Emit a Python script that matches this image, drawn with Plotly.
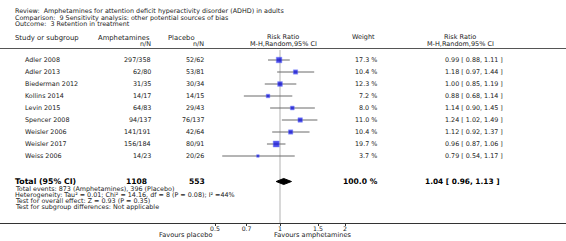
import plotly.graph_objects as go

studies = ["Adler 2008", "Adler 2013", "Biederman 2012", "Kollins 2014", "Levin 2015",
           "Spencer 2008", "Weisler 2006", "Weisler 2017", "Weiss 2006"]
amph = ["297/358", "62/80", "31/35", "14/17", "64/83", "94/137", "141/191", "156/184", "14/23"]
plac = ["52/62", "53/81", "30/34", "14/15", "29/43", "76/137", "42/64", "80/91", "20/26"]
weights = [17.3, 10.4, 12.3, 7.2, 8.0, 11.0, 10.4, 19.7, 3.7]
rr = [0.99, 1.18, 1.00, 0.88, 1.14, 1.24, 1.12, 0.96, 0.79]
lo = [0.88, 0.97, 0.85, 0.68, 0.90, 1.02, 0.92, 0.87, 0.54]
hi = [1.11, 1.44, 1.19, 1.14, 1.45, 1.49, 1.37, 1.06, 1.17]
total_rr, total_lo, total_hi = 1.04, 0.96, 1.13
total_amph, total_plac = "1108", "553"
tick_vals = [0.5, 0.7, 1, 1.5, 2]
tick_text = ["0.5", "0.7", "1", "1.5", "2"]

W, H = 566, 241
PLOT_H = 223
FONT = "DejaVu Sans"
TXT = "#222222"

def px(x):
    return x / W

def ry(ypix):
    return (ypix - 60) / 12.0

def py(ypix):
    return 1 - ypix / PLOT_H

rows = list(range(len(studies)))
total_row = ry(181.5)

fig = go.Figure()

# reference line at 1
fig.add_shape(type="line", xref="x", yref="y", x0=1, x1=1, y0=ry(50), y1=ry(223),
              line=dict(color="#d8d8d8", width=2), layer="below")

# CI lines
cx, cy = [], []
for i in rows:
    cx += [lo[i], hi[i], None]
    cy += [i, i, None]
fig.add_trace(go.Scatter(x=cx, y=cy, mode="lines", line=dict(color="#6a6a6a", width=1),
                         hoverinfo="skip", showlegend=False))

# squares
sizes = [1.35 * w ** 0.5 for w in weights]
fig.add_trace(go.Scatter(x=rr, y=rows, mode="markers",
                         marker=dict(symbol="square", size=sizes, color="#0000e0",
                                     line=dict(color="#5060ff", width=0.5)),
                         showlegend=False))

# diamond
dh = 0.25
fig.add_trace(go.Scatter(x=[total_lo, total_rr, total_hi, total_rr, total_lo],
                         y=[total_row, total_row - dh, total_row, total_row + dh, total_row],
                         mode="lines", fill="toself", fillcolor="black",
                         line=dict(color="black", width=1), showlegend=False))

# header separator line
fig.add_shape(type="line", xref="paper", yref="y", x0=0, x1=1, y0=ry(48.5), y1=ry(48.5),
              line=dict(color="#555555", width=1))

ann = []
def A(text, x, y, anchor="left", size=6.4, bold=False, color=TXT, yref="y"):
    if bold:
        text = "<b>" + text + "</b>"
    ann.append(dict(text=text, x=px(x), y=y, xref="paper", yref=yref, xanchor=anchor,
                    yanchor="middle", showarrow=False,
                    font=dict(family=FONT, size=size, color=color)))

# top titles
A("Review:  Amphetamines for attention deficit hyperactivity disorder (ADHD) in adults", 13, ry(11), size=6.4)
A("Comparison:  9 Sensitivity analysis: other potential sources of bias", 13, ry(17.5), size=6.4)
A("Outcome:  3 Retention in treatment", 13, ry(24), size=6.4)

# column headers
A("Study or subgroup", 13, ry(38), size=6.9)
A("Amphetamines", 124, ry(37.5), anchor="center", size=6.8)
A("n/N", 153, ry(43.5), anchor="right", size=6.4)
A("Placebo", 181, ry(37.5), anchor="center", size=6.8)
A("n/N", 206, ry(43.5), anchor="right", size=6.4)
A("Risk Ratio", 283, ry(37), anchor="center", size=6.5)
A("M-H,Random,95% CI", 283, ry(43.5), anchor="center", size=6.5)
A("Weight", 363, ry(37), anchor="center", size=6.5)
A("Risk Ratio", 460, ry(37), anchor="center", size=6.5)
A("M-H,Random,95% CI", 460, ry(43.5), anchor="center", size=6.5)

for i in rows:
    A(studies[i], 23, i)
    A(amph[i], 153, i, anchor="right")
    A(plac[i], 206, i, anchor="right")
    A(f"{weights[i]:.1f} %", 379, i, anchor="right")
    A(f"{rr[i]:.2f} [ {lo[i]:.2f}, {hi[i]:.2f} ]", 443, i, anchor="left")

A("Total (95% CI)", 13, total_row, size=7.8, bold=True, color="black")
A(total_amph, 149, total_row, anchor="right", size=7.6, bold=True, color="black")
A(total_plac, 207, total_row, anchor="right", size=7.6, bold=True, color="black")
A("100.0 %", 380, total_row, anchor="right", size=7.6, bold=True, color="black")
A(f"{total_rr:.2f} [ {total_lo:.2f}, {total_hi:.2f} ]", 423, total_row, anchor="left", size=7.4, bold=True, color="black")

A("Total events: 873 (Amphetamines), 396 (Placebo)", 13, ry(188.5), size=6.4)
A("Heterogeneity: Tau² = 0.01; Chi² = 14.16, df = 8 (P = 0.08); I² =44%", 13, ry(194.8), size=6.4)
A("Test for overall effect: Z = 0.93 (P = 0.35)", 13, ry(201.1), size=6.4)
A("Test for subgroup differences: Not applicable", 13, ry(207.4), size=6.4)

A("Favours placebo", 186, py(234.5), anchor="center", size=6.6, yref="paper")
A("Favours amphetamines", 272, py(234.5), anchor="left", size=6.6, yref="paper")

fig.update_layout(
    width=W, height=H,
    margin=dict(l=0, r=0, t=0, b=H - PLOT_H),
    paper_bgcolor="white", plot_bgcolor="white",
    annotations=ann,
    xaxis=dict(type="log", range=[-1.297, 1.3247], tickvals=tick_vals, ticktext=tick_text,
               showgrid=False, zeroline=False, showline=True, linecolor="#333333", linewidth=1,
               ticks="outside", ticklen=2, tickcolor="#333333", ticklabelstandoff=-2,
               tickfont=dict(family=FONT, size=6.2, color=TXT)),
    yaxis=dict(range=[ry(PLOT_H), ry(0)], visible=False, showgrid=False, zeroline=False),
    showlegend=False,
)

fig.write_html("out.html", config={"displayModeBar": False},
               post_script="document.body.style.margin='0';document.body.style.padding='0';")
